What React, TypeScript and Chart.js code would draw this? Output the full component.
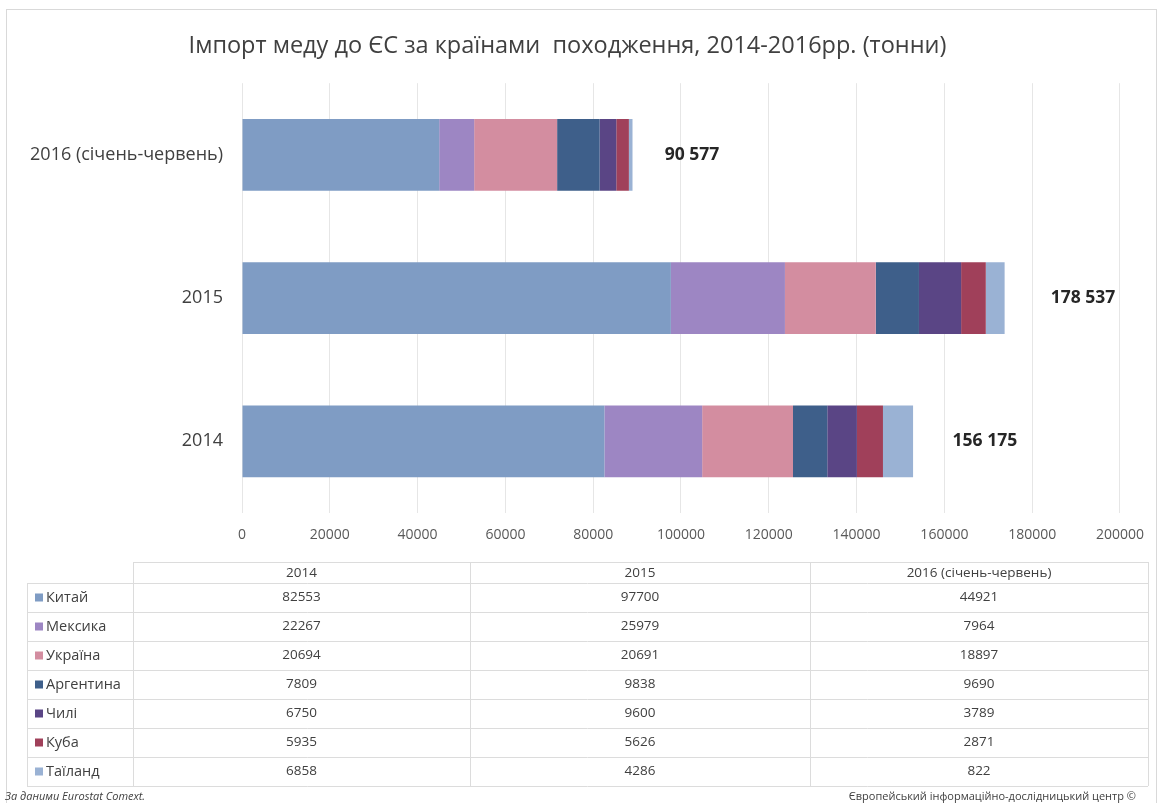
import React, { useEffect, useRef } from "react";
import { Chart, registerables } from "chart.js";

Chart.register(...registerables);

const title = "Імпорт меду до ЄС за країнами  походження, 2014-2016рр. (тонни)";
const categories = ["2014", "2015", "2016 (січень-червень)"];
const countries = ["Китай", "Мексика", "Україна", "Аргентина", "Чилі", "Куба", "Таїланд"];
const china = [82553, 97700, 44921];
const mexico = [22267, 25979, 7964];
const ukraine = [20694, 20691, 18897];
const argentina = [7809, 9838, 9690];
const chile = [6750, 9600, 3789];
const cuba = [5935, 5626, 2871];
const thailand = [6858, 4286, 822];
const seriesValues = [china, mexico, ukraine, argentina, chile, cuba, thailand];
const colors = ["#7f9cc4", "#9d86c3", "#d38da0", "#3e5f8a", "#5a4585", "#a0405a", "#9ab2d4"];
const totals = [156175, 178537, 90577];
const xTicks = [0, 20000, 40000, 60000, 80000, 100000, 120000, 140000, 160000, 180000, 200000];
const sourceLeft = "За даними Eurostat Comext.";
const sourceRight = "Європейський інформаційно-дослідницький центр ©";

const FONT = "'Open Sans', 'Noto Sans', sans-serif";

function fmtSpace(n: number): string {
  return String(n).replace(/\B(?=(\d{3})+(?!\d))/g, " ");
}

const extrasPlugin = {
  id: "extras",
  afterDraw(chart: any) {
    const ctx = chart.ctx as CanvasRenderingContext2D;
    const xs = chart.scales.x;
    const ys = chart.scales.y;
    ctx.save();
    // outer frame
    ctx.strokeStyle = "#d9d9d9";
    ctx.lineWidth = 1;
    ctx.strokeRect(6.5, 9.5, 1150, 820);

    // total labels
    ctx.fillStyle = "#262626";
    ctx.font = `bold 17.5px ${FONT}`;
    ctx.textAlign = "left";
    ctx.textBaseline = "middle";
    totals.forEach((t, i) => {
      const x = xs.getPixelForValue(t) + 25;
      const y = ys.getPixelForValue(i);
      ctx.fillText(fmtSpace(t), x, y);
    });

    // data table
    const colX = [27, 133, 470, 810, 1148];
    const headTop = 562;
    const rowTop = 583;
    const rowH = 29;
    const nRows = countries.length;
    const bottom = rowTop + rowH * nRows;
    ctx.strokeStyle = "#dcdcdc";
    ctx.lineWidth = 1;
    ctx.beginPath();
    ctx.moveTo(colX[1], headTop + 0.5);
    ctx.lineTo(colX[4], headTop + 0.5);
    for (let r = 0; r <= nRows; r++) {
      const y = rowTop + r * rowH + 0.5;
      ctx.moveTo(colX[0], y);
      ctx.lineTo(colX[4], y);
    }
    for (let c = 1; c < colX.length; c++) {
      ctx.moveTo(colX[c] + 0.5, headTop);
      ctx.lineTo(colX[c] + 0.5, bottom);
    }
    ctx.moveTo(colX[0] + 0.5, rowTop);
    ctx.lineTo(colX[0] + 0.5, bottom);
    ctx.stroke();

    ctx.fillStyle = "#404040";
    ctx.font = `13.5px ${FONT}`;
    ctx.textAlign = "center";
    categories.forEach((c, i) => {
      ctx.fillText(c, (colX[i + 1] + colX[i + 2]) / 2, (headTop + rowTop) / 2 + 1);
    });
    countries.forEach((name, r) => {
      const yc = rowTop + r * rowH + rowH / 2;
      ctx.fillStyle = colors[r];
      ctx.fillRect(35, yc - 4, 8, 8);
      ctx.fillStyle = "#404040";
      ctx.textAlign = "left";
      ctx.font = `14.5px ${FONT}`;
      ctx.fillText(name, 46, yc);
      ctx.font = `13.5px ${FONT}`;
      ctx.textAlign = "center";
      seriesValues[r].forEach((v, i) => {
        ctx.fillText(String(v), (colX[i + 1] + colX[i + 2]) / 2, yc);
      });
    });

    // footer
    ctx.fillStyle = "#404040";
    ctx.font = `italic 11px ${FONT}`;
    ctx.textAlign = "left";
    ctx.fillText(sourceLeft, 5, 797);
    ctx.font = `11px ${FONT}`;
    ctx.textAlign = "right";
    ctx.fillText(sourceRight, 1136, 797);
    ctx.restore();
  },
};

export default function App() {
  const ref = useRef<HTMLCanvasElement | null>(null);
  useEffect(() => {
    if (!ref.current) return;
    const chart = new Chart(ref.current, {
      type: "bar",
      data: {
        labels: categories,
        datasets: countries.map((name, i) => ({
          label: name,
          data: seriesValues[i],
          backgroundColor: colors[i],
          borderWidth: 0,
          barPercentage: 0.5,
          categoryPercentage: 1,
        })),
      },
      options: {
        indexAxis: "y",
        animation: false,
        responsive: false,
        maintainAspectRatio: false,
        layout: { padding: { left: 10, right: 33, top: 0, bottom: 250 } },
        plugins: {
          legend: { display: false },
          tooltip: { enabled: false },
          title: {
            display: true,
            text: title,
            color: "#404040",
            font: { family: FONT, size: 23.5, weight: "normal" },
            padding: { top: 32, bottom: 23 },
          },
        },
        scales: {
          x: {
            stacked: true,
            min: 0,
            max: 200000,
            afterBuildTicks: (s: any) => {
              s.ticks = xTicks.map((v) => ({ value: v }));
            },
            afterFit: (s: any) => {
              s.height = 40;
            },
            grid: { color: "#e6e6e6", drawTicks: false },
            border: { display: false },
            ticks: {
              color: "#595959",
              font: { family: FONT, size: 14 },
              padding: 14,
              maxRotation: 0,
              autoSkip: false,
              callback: (v: any) => String(v),
            },
          },
          y: {
            stacked: true,
            reverse: true,
            afterFit: (s: any) => {
              s.width = 232;
            },
            grid: { display: false, drawTicks: false },
            border: { display: false },
            ticks: {
              color: "#404040",
              font: { family: FONT, size: 18 },
              padding: 19,
            },
          },
        },
      },
      plugins: [extrasPlugin],
    });
    return () => chart.destroy();
  }, []);
  return (
    <div style={{ position: "absolute", left: 0, top: 0, width: 1158, height: 803, background: "#fff" }}>
      <canvas ref={ref} width={1158} height={803} style={{ width: 1158, height: 803 }} />
    </div>
  );
}
